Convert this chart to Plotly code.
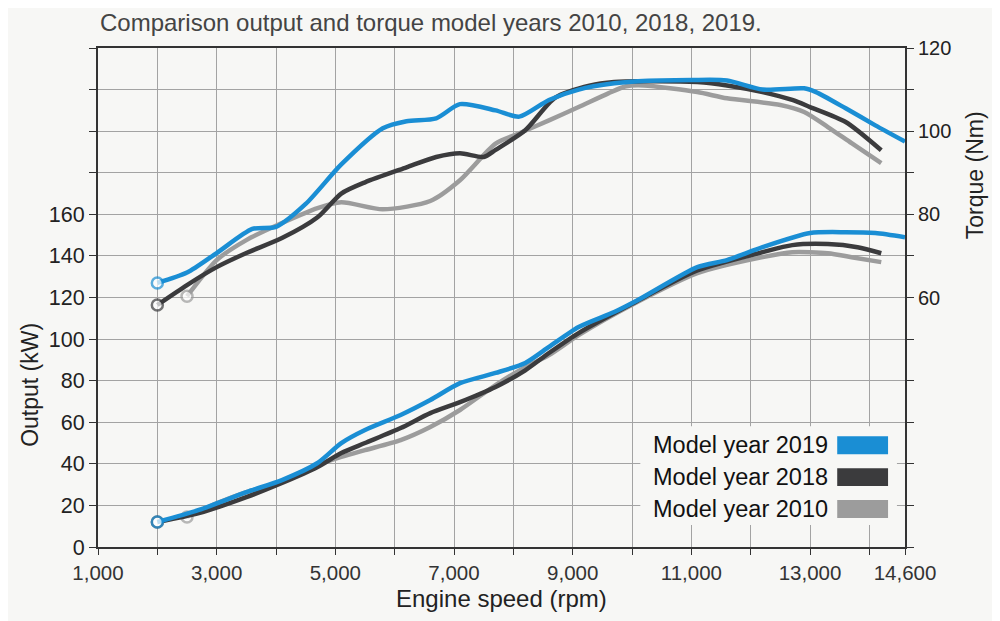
import plotly.graph_objects as go

# engine speed (rpm) and values
rpm_torque_2019 = [2000, 2500, 3000, 3600, 4000, 4500, 5100, 5800, 6200, 6700, 7100, 7700, 8100, 8600,
                   9100, 9700, 10100, 11000, 11600, 12200, 12900, 13100, 13600, 14100, 14600]
torque_2019 = [63.5, 66, 70.7, 76.5, 77, 82.5, 92, 100.7, 102.4, 103.1, 106.5, 105, 103.5, 107.5,
               110, 111.5, 112, 112.3, 112.2, 110, 110.3, 109.4, 105.5, 101.4, 97.5]

rpm_torque_2018 = [2000, 2500, 3000, 3500, 4100, 4700, 5100, 5500, 6200, 6700, 7100, 7500, 7700, 8200,
                   8700, 9300, 9700, 10200, 11100, 11600, 12200, 12700, 13000, 13600, 14200]
torque_2018 = [58.2, 63, 67.3, 70.7, 74.3, 79.3, 85, 87.7, 91.3, 93.8, 94.7, 93.8, 95.5, 100.2,
               108, 111, 111.8, 112, 111.8, 111, 109.4, 107.5, 105.8, 102.2, 95.4]

rpm_torque_2010 = [2500, 3000, 3500, 4100, 4700, 5100, 5800, 6600, 7100, 7700, 8100, 8600, 9100,
                   9600, 9900, 10200, 11100, 11600, 12500, 12900, 13300, 13700, 14200]
torque_2010 = [60.3, 69, 73.8, 77.9, 81.5, 82.9, 81.2, 83.2, 88.2, 97, 99.5, 102.6, 105.8,
               109.1, 110.8, 111, 109.4, 107.9, 106.3, 104.6, 101, 97.1, 92.3]

rpm_output_2019 = [2000, 2700, 3500, 4100, 4700, 5100, 5500, 6100, 6600, 7100, 7700, 8200, 8600, 9100,
                   9700, 10100, 11100, 11600, 12200, 13000, 13600, 14100, 14600]
output_2019 = [12, 17.8, 26.4, 32.2, 40.4, 50, 56.3, 63.5, 70.7, 78.8, 83.7, 88.5, 96.2, 105.8,
               113, 118.8, 134.6, 138, 144.2, 151, 151.4, 151, 149]

rpm_output_2018 = [2000, 2700, 3500, 4100, 4700, 5100, 5500, 6100, 6600, 7100, 7700, 8200, 8600, 9100,
                   10000, 11100, 12200, 12700, 13300, 13800, 14200]
output_2018 = [12, 16.3, 24, 30.8, 38.5, 45.2, 50, 57.2, 64.4, 69.7, 77, 85, 93.3, 102.9,
               117, 133, 141.8, 145.2, 145.7, 144.2, 141.3]

rpm_output_2010 = [2500, 3000, 3500, 4100, 4700, 5100, 5500, 6100, 6600, 7100, 7700, 8200, 8600, 9100,
                   10000, 11100, 12200, 12700, 13300, 13700, 14200]
output_2010 = [14.4, 21, 26.4, 31.3, 39.4, 43.3, 46.6, 51.4, 57.7, 65.9, 77.9, 86.5, 92.3, 101.9,
               116.5, 131.7, 139.4, 141.8, 141.3, 139.4, 137]

legend_labels = ["Model year 2019", "Model year 2018", "Model year 2010"]
colors = {"2019": "#1a8ed4", "2018": "#3b3b3d", "2010": "#9c9c9c"}

x_ticks = list(range(1000, 15000, 1000)) + [14600]
x_labels = [f"{v:,}" if (v % 2000 == 1000 or v == 14600) else "" for v in x_ticks]
kw_ticks = list(range(0, 241, 20))
kw_labels = [str(v) if v <= 160 else "" for v in kw_ticks]
nm_ticks = list(range(0, 121, 10))
nm_labels = [str(v) if v in (60, 80, 100, 120) else "" for v in nm_ticks]

FONT = "Liberation Sans"
BG = "#f7f7f5"

fig = go.Figure()

def add_curve(x, y, color, axis):
    fig.add_trace(go.Scatter(
        x=x, y=y, yaxis=axis, mode="lines+markers",
        line=dict(color=color, width=4.5, shape="spline", smoothing=0.7),
        marker=dict(size=[11] + [0] * (len(x) - 1), color="white",
                    line=dict(color=color, width=[2.5] + [0] * (len(x) - 1))),
        showlegend=False, hoverinfo="skip"))

# grey first, then dark, blue on top
add_curve(rpm_torque_2010, torque_2010, colors["2010"], "y2")
add_curve(rpm_output_2010, output_2010, colors["2010"], "y")
add_curve(rpm_torque_2018, torque_2018, colors["2018"], "y2")
add_curve(rpm_output_2018, output_2018, colors["2018"], "y")
add_curve(rpm_torque_2019, torque_2019, colors["2019"], "y2")
add_curve(rpm_output_2019, output_2019, colors["2019"], "y")

# the page puts the figure 8px in from the top-left corner, margins allow for that
fig.update_layout(
    width=1000, height=621,
    margin=dict(l=90, r=103, t=40, b=82),
    paper_bgcolor=BG, plot_bgcolor=BG,
    font=dict(family=FONT, color="#222", size=20),
    title=dict(text="Comparison output and torque model years 2010, 2018, 2019.",
               x=0.092, xanchor="left", y=0.977, yanchor="middle",
               font=dict(size=24, color="#444")),
    xaxis=dict(range=[1000, 14600], tickvals=x_ticks, ticktext=x_labels,
               showgrid=True, gridcolor="#a3a3a3", gridwidth=1,
               showline=True, linecolor="#333", linewidth=2, mirror=True,
               ticks="outside", ticklen=6, tickcolor="#333",
               tickfont=dict(size=20.5, color="#333"), zeroline=False),
    yaxis=dict(range=[0, 240], tickvals=kw_ticks, ticktext=kw_labels,
               showgrid=True, gridcolor="#a3a3a3", gridwidth=1,
               showline=True, linecolor="#333", linewidth=2,
               ticks="outside", ticklen=7, tickcolor="#333",
               tickfont=dict(size=21.5, color="#222"), zeroline=False),
    yaxis2=dict(range=[0, 120], tickvals=nm_ticks, ticktext=nm_labels,
                overlaying="y", side="right", showgrid=False,
                showline=True, linecolor="#333", linewidth=2,
                ticks="outside", ticklen=7, tickcolor="#333",
                tickfont=dict(size=20, color="#222"), zeroline=False),
)

# axis titles
fig.add_annotation(text="Output (kW)", xref="paper", yref="paper", x=0, y=0.325,
                   xshift=-68, xanchor="center", yanchor="middle", textangle=-90,
                   showarrow=False, font=dict(size=23, color="#222"))
fig.add_annotation(text="Torque (Nm)", xref="paper", yref="paper", x=1, y=0.745,
                   xshift=70, xanchor="center", yanchor="middle", textangle=-90,
                   showarrow=False, font=dict(size=23, color="#222"))
fig.add_annotation(text="Engine speed (rpm)", xref="paper", yref="paper", x=0.5, y=0,
                   yshift=-51, xanchor="center", yanchor="middle",
                   showarrow=False, font=dict(size=24, color="#222"))

# legend box with colour swatches on the right of the labels
fig.add_shape(type="rect", xref="paper", yref="paper", x0=0.672, x1=0.99, y0=0.044, y1=0.242,
              fillcolor=BG, line=dict(width=0), layer="above")
legend_colors = [colors["2019"], colors["2018"], colors["2010"]]
legend_y = [0.204, 0.14, 0.076]
for label, col, ly in zip(legend_labels, legend_colors, legend_y):
    fig.add_annotation(text=label, xref="paper", yref="paper", x=0.907, y=ly,
                       xanchor="right", yanchor="middle", showarrow=False,
                       font=dict(size=23.5, color="#111"))
    fig.add_shape(type="rect", xref="paper", yref="paper", x0=0.916, x1=0.979,
                  y0=ly - 0.018, y1=ly + 0.018, fillcolor=col, line=dict(width=0), layer="above")

fig.write_html("out.html")
